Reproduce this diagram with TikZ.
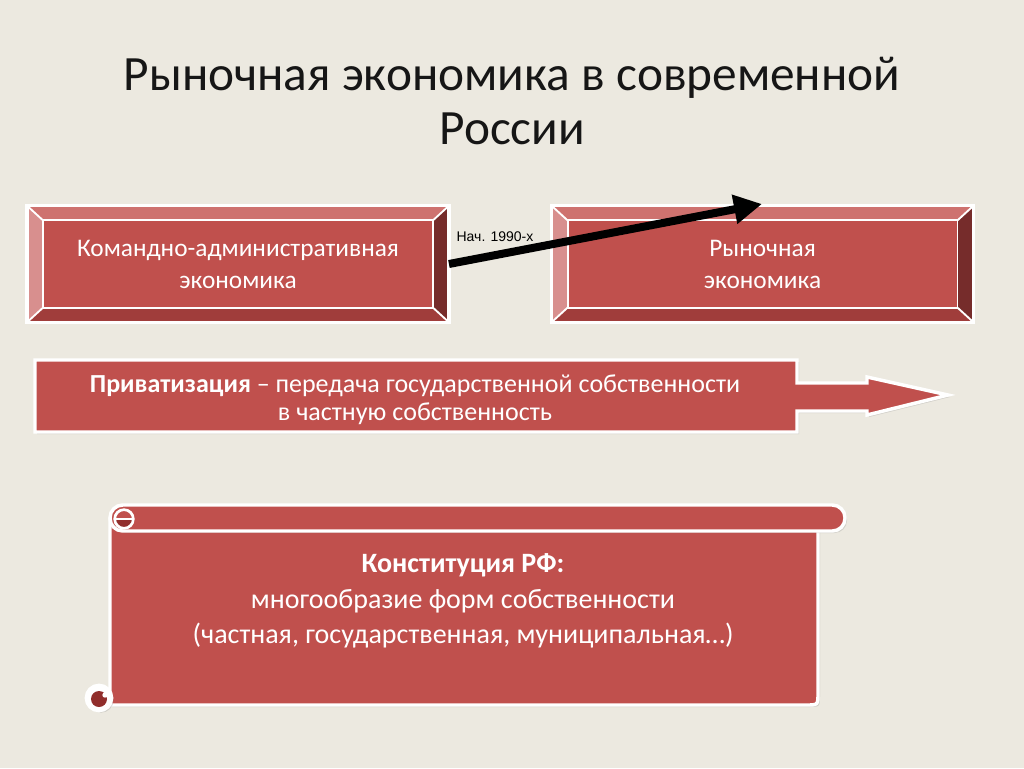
\documentclass[tikz,border=0pt]{standalone}
\usepackage{fontspec}
\setmainfont{Carlito}
\newfontfamily\arialfont{Liberation Sans}
\usetikzlibrary{arrows.meta,positioning,calc,shadows}
\definecolor{cbg}{RGB}{236,233,224}
\definecolor{cred}{RGB}{192,80,77}
\definecolor{ctop}{RGB}{206,114,111}
\definecolor{cleft}{RGB}{216,143,142}
\definecolor{cright}{RGB}{118,44,43}
\definecolor{cbot}{RGB}{160,61,59}
\definecolor{cdark}{RGB}{145,46,44}
\definecolor{ctitle}{RGB}{22,22,22}
% bevel edges of a box node
\newcommand{\bevel}[1]{%
\fill[ctop] (#1.north west) -- (#1.north east) -- ($(#1.north east)+(-12pt,-11pt)$) -- ($(#1.north west)+(12pt,-11pt)$) -- cycle;
\fill[cleft] (#1.north west) -- ($(#1.north west)+(12pt,-11pt)$) -- ($(#1.south west)+(12pt,11pt)$) -- (#1.south west) -- cycle;
\fill[cright] (#1.north east) -- ($(#1.north east)+(-12pt,-11pt)$) -- ($(#1.south east)+(-12pt,11pt)$) -- (#1.south east) -- cycle;
\fill[cbot] (#1.south west) -- ($(#1.south west)+(12pt,11pt)$) -- ($(#1.south east)+(-12pt,11pt)$) -- (#1.south east) -- cycle;
\draw[white,line width=1.4pt] ($(#1.north west)+(12pt,-11pt)$) rectangle ($(#1.south east)+(-12pt,11pt)$);
\draw[white,line width=1.4pt] (#1.north west) -- ++(12pt,-11pt) (#1.north east) -- ++(-12pt,-11pt)
  (#1.south west) -- ++(12pt,11pt) (#1.south east) -- ++(-12pt,11pt);
\draw[white,line width=2.4pt] (#1.north west) rectangle (#1.south east);}

\begin{document}
\begin{tikzpicture}[x=0.75pt,y=-0.75pt,>=Latex,
shadowed/.style={drop shadow={opacity=0.25,shadow xshift=1.5pt,shadow yshift=-1.5pt}},
box/.style={draw=white,line width=2.4pt,fill=cred,minimum width=314pt,minimum height=85pt,shadowed},
boxtext/.style={align=center,text=white,font=\fontsize{19}{24}\selectfont},
redshape/.style={draw=white,line width=2.6pt,fill=cred,shadowed},
redtext/.style={text=white,align=center,font=\fontsize{19.5}{21}\selectfont},
bigarr/.style={-{Triangle[length=21pt,width=21pt]},line width=6pt,black}]
\useasboundingbox[fill=cbg] (0,0) rectangle (1024,768);
% title
\node[align=center,text=ctitle,font=\fontsize{37}{41}\selectfont] (title) at (512,101)
  {Рыночная экономика в современной\\России};
% two economies
\node[box] (lbox) at (238,264) {};
\bevel{lbox}
\node[box,right=77pt of lbox] (rbox) {};
\bevel{rbox}
\node[boxtext] (ltext) at (lbox) {Командно-административная\\экономика};
\node[boxtext] (rtext) at (rbox) {Рыночная\\экономика};
\coordinate (aim) at (762,204);
\draw[bigarr] (lbox.east) -- (aim);
\node[font=\arialfont\fontsize{10.5}{12}\selectfont] (date) at (495,237) {Нач. 1990-х};
% privatization
\draw[redshape] (35,360) -- (797,360) -- (797,383) -- (867,383) -- (867,377) -- (948,395)
  -- (867,415) -- (867,411) -- (797,411) -- (797,432) -- (35,432) -- cycle;
\node[redtext] (priv) at (415,400) {\textbf{Приватизация} – передача государственной собственности\\в частную собственность};
% scroll
\draw[redshape] (110,519) -- (818,519) -- (818,693) .. controls (818,705) .. (806,705) -- (110,705) -- cycle;
\draw[redshape,rounded corners=9.5pt] (110,505) rectangle (845,531);
\begin{scope}
\clip (110,519) rectangle (140,535);
\fill[cdark] (124,519) circle[radius=7pt];
\end{scope}
\draw[white,line width=2pt] (124,519) circle[radius=7pt];
\draw[white,line width=2pt] (114.7,519) -- (134,519);
\draw[redshape,fill=white] (99,698) circle[radius=9.5pt];
\fill[cdark] (99,699) circle[radius=6pt];
\fill[white] (105,695) circle[radius=2pt];
\node[redtext,font=\fontsize{21}{26.5}\selectfont] (const) at (463,601)
  {\textbf{Конституция РФ:}\\многообразие форм собственности\\(частная, государственная, муниципальная…)};
\end{tikzpicture}
\end{document}
